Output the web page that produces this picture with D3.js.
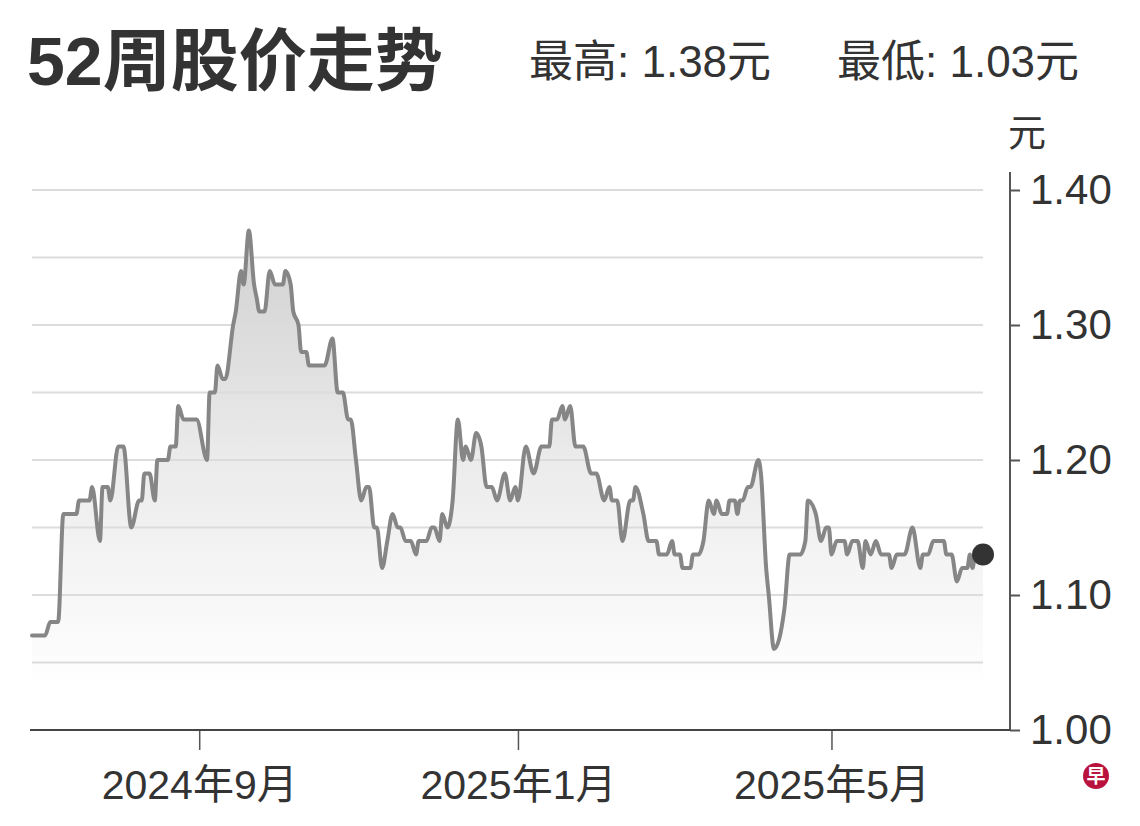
<!DOCTYPE html>
<html>
<head>
<meta charset="utf-8">
<script src="https://cdn.jsdelivr.net/npm/d3@7"></script>
<style>
  html, body { margin: 0; padding: 0; background: #fff; }
  svg { display: block; }
  text { font-family: "Liberation Sans", Arial, "Noto Sans CJK SC", sans-serif; }
</style>
</head>
<body>
<svg id="chart" width="1140" height="826"></svg>
<script>
// ---- data ----
const titleText = "52周股价走势";
const highText = "最高: 1.38元";
const lowText = "最低: 1.03元";
const unitText = "元";
const yTicks = [1.00, 1.10, 1.20, 1.30, 1.40];
const yGrid = [1.05, 1.10, 1.15, 1.20, 1.25, 1.30, 1.35, 1.40];
const xTicks = ["2024-09-01", "2025-01-01", "2025-05-01"];

const dates = [
  "2024-06-29","2024-07-04","2024-07-06","2024-07-09","2024-07-11","2024-07-16","2024-07-17","2024-07-21",
  "2024-07-22","2024-07-25","2024-07-26","2024-07-28","2024-07-29","2024-08-01","2024-08-03","2024-08-06",
  "2024-08-09","2024-08-10","2024-08-11","2024-08-13","2024-08-15","2024-08-16","2024-08-20","2024-08-21",
  "2024-08-23","2024-08-24","2024-08-26","2024-08-31","2024-09-04","2024-09-05","2024-09-07","2024-09-08",
  "2024-09-10","2024-09-11","2024-09-14","2024-09-15","2024-09-17","2024-09-18","2024-09-20","2024-09-22",
  "2024-09-23","2024-09-24","2024-09-26","2024-09-28","2024-09-30","2024-10-03","2024-10-04","2024-10-06",
  "2024-10-07","2024-10-09","2024-10-10","2024-10-12","2024-10-13","2024-10-19","2024-10-22","2024-10-24",
  "2024-10-26","2024-10-28","2024-10-29","2024-10-31","2024-11-02","2024-11-04","2024-11-05","2024-11-07",
  "2024-11-08","2024-11-10","2024-11-12","2024-11-14","2024-11-16","2024-11-17","2024-11-19","2024-11-21",
  "2024-11-23","2024-11-24","2024-11-27","2024-11-29","2024-11-30","2024-12-02","2024-12-03","2024-12-05",
  "2024-12-07","2024-12-09","2024-12-11","2024-12-12","2024-12-14","2024-12-16","2024-12-18","2024-12-20",
  "2024-12-22","2024-12-24","2024-12-27","2024-12-29","2024-12-31","2025-01-01","2025-01-04","2025-01-07",
  "2025-01-10","2025-01-13","2025-01-14","2025-01-16","2025-01-18","2025-01-19","2025-01-21","2025-01-23",
  "2025-01-26","2025-01-29","2025-01-31","2025-02-03","2025-02-05","2025-02-06","2025-02-08","2025-02-10",
  "2025-02-13","2025-02-14","2025-02-15","2025-02-18","2025-02-20","2025-02-23","2025-02-24","2025-02-27",
  "2025-03-01","2025-03-02","2025-03-04","2025-03-05","2025-03-08","2025-03-09","2025-03-11","2025-03-13",
  "2025-03-15","2025-03-17","2025-03-18","2025-03-20","2025-03-22","2025-03-23","2025-03-25","2025-03-26",
  "2025-03-27","2025-03-28","2025-03-30","2025-03-31","2025-04-03","2025-04-04","2025-04-06","2025-04-07",
  "2025-04-09","2025-04-13","2025-04-15","2025-04-19","2025-04-21","2025-04-22","2025-04-25","2025-04-27",
  "2025-04-29","2025-04-30","2025-05-01","2025-05-03","2025-05-06","2025-05-07","2025-05-09","2025-05-11",
  "2025-05-13","2025-05-14","2025-05-16","2025-05-18","2025-05-20","2025-05-23","2025-05-24","2025-05-26",
  "2025-05-29","2025-06-01","2025-06-04","2025-06-05","2025-06-07","2025-06-09","2025-06-13","2025-06-14",
  "2025-06-16","2025-06-18","2025-06-20","2025-06-22","2025-06-23","2025-06-24","2025-06-25","2025-06-28"
];
const prices = [
  1.07,1.07,1.08,1.08,1.16,1.16,1.17,1.17,
  1.18,1.14,1.18,1.18,1.17,1.21,1.21,1.15,
  1.17,1.17,1.19,1.19,1.17,1.20,1.20,1.21,
  1.21,1.24,1.23,1.23,1.20,1.25,1.25,1.27,
  1.26,1.26,1.30,1.31,1.34,1.33,1.37,1.33,
  1.32,1.31,1.31,1.34,1.33,1.33,1.34,1.33,
  1.31,1.30,1.28,1.28,1.27,1.27,1.29,1.25,
  1.25,1.23,1.23,1.20,1.17,1.18,1.18,1.15,
  1.15,1.12,1.14,1.16,1.15,1.15,1.14,1.14,
  1.13,1.14,1.14,1.15,1.15,1.14,1.16,1.15,
  1.17,1.23,1.20,1.21,1.20,1.22,1.21,1.18,
  1.18,1.17,1.19,1.17,1.18,1.17,1.21,1.19,
  1.21,1.21,1.23,1.23,1.24,1.23,1.24,1.21,
  1.21,1.19,1.19,1.17,1.18,1.17,1.17,1.14,
  1.17,1.17,1.18,1.16,1.14,1.14,1.13,1.13,
  1.14,1.13,1.13,1.12,1.12,1.13,1.13,1.14,
  1.17,1.16,1.17,1.16,1.16,1.17,1.17,1.16,
  1.17,1.17,1.18,1.18,1.20,1.19,1.12,1.10,
  1.06,1.09,1.13,1.13,1.14,1.17,1.16,1.14,
  1.15,1.15,1.13,1.14,1.14,1.13,1.14,1.14,
  1.12,1.14,1.13,1.14,1.13,1.13,1.12,1.13,
  1.13,1.15,1.12,1.13,1.13,1.14,1.14,1.13,
  1.13,1.11,1.12,1.12,1.13,1.12,1.13,1.13
];

// ---- chart ----
const parse = d3.timeParse("%Y-%m-%d");
const data = d3.zip(dates, prices).map(([d, v]) => ({ date: parse(d), value: v }));

const svg = d3.select("#chart");
const plotLeft = 32, plotRight = 983, axisX = 1010;
const yTop = 190, yBottom = 730;

const x = d3.scaleTime().domain(d3.extent(data, d => d.date)).range([plotLeft, plotRight]);
const y = d3.scaleLinear().domain([1.0, 1.4]).range([yBottom, yTop]);

const defs = svg.append("defs");
const grad = defs.append("linearGradient")
  .attr("id", "areaGrad").attr("gradientUnits", "userSpaceOnUse")
  .attr("x1", 0).attr("x2", 0).attr("y1", y(1.37)).attr("y2", y(1.03));
grad.append("stop").attr("offset", "0%").attr("stop-color", "#d0d0d0");
grad.append("stop").attr("offset", "50%").attr("stop-color", "#ebebeb");
grad.append("stop").attr("offset", "100%").attr("stop-color", "#ffffff");

// area
const area = d3.area().x(d => x(d.date)).y0(y(1.0)).y1(d => y(d.value)).curve(d3.curveMonotoneX);
svg.append("path").datum(data).attr("d", area).attr("fill", "url(#areaGrad)");

// gridlines
svg.append("g").selectAll("line").data(yGrid).join("line")
  .attr("x1", plotLeft).attr("x2", plotRight)
  .attr("y1", d => y(d)).attr("y2", d => y(d))
  .attr("stroke", "#dcdcdc").attr("stroke-width", 2);

// line
const line = d3.line().x(d => x(d.date)).y(d => y(d.value)).curve(d3.curveMonotoneX);
svg.append("path").datum(data).attr("d", line)
  .attr("fill", "none").attr("stroke", "#868686").attr("stroke-width", 4)
  .attr("stroke-linejoin", "round").attr("stroke-linecap", "round");

// end dot
const last = data[data.length - 1];
svg.append("circle").attr("cx", x(last.date)).attr("cy", y(last.value)).attr("r", 11).attr("fill", "#333");

// y axis
const yAxis = d3.axisRight(y).tickValues(yTicks).tickFormat(d3.format(".2f")).tickSize(10).tickPadding(10);
const gy = svg.append("g").attr("transform", `translate(${axisX},0)`).call(yAxis);
gy.select(".domain").remove();
gy.selectAll(".tick line").attr("stroke", "#555").attr("stroke-width", 2);
gy.selectAll(".tick text").attr("fill", "#333").attr("font-size", 42)
  .attr("font-family", "'Liberation Sans', Arial, sans-serif");
svg.append("line").attr("x1", axisX).attr("x2", axisX).attr("y1", 172).attr("y2", yBottom)
  .attr("stroke", "#555").attr("stroke-width", 2);

// x axis
const xAxis = d3.axisBottom(x).tickValues(xTicks.map(parse))
  .tickFormat(d3.timeFormat("%Y年%-m月")).tickSize(20).tickPadding(20);
const gx = svg.append("g").attr("transform", `translate(0,${yBottom})`).call(xAxis);
gx.select(".domain").remove();
gx.selectAll(".tick line").attr("stroke", "#555").attr("stroke-width", 1.5);
gx.selectAll(".tick text").attr("fill", "#333").attr("font-size", 41);
svg.append("line").attr("x1", 30).attr("x2", axisX).attr("y1", yBottom).attr("y2", yBottom)
  .attr("stroke", "#444").attr("stroke-width", 2);

// unit label
svg.append("text").attr("x", 1027).attr("y", 146).attr("text-anchor", "middle")
  .attr("font-size", 38).attr("fill", "#333").text(unitText);

// title & subtitle
svg.append("text").attr("x", 27).attr("y", 85).attr("font-size", 68).attr("font-weight", "bold")
  .attr("fill", "#333").text(titleText);
svg.append("text").attr("x", 529).attr("y", 77).attr("font-size", 44).attr("fill", "#333").text(highText);
svg.append("text").attr("x", 837).attr("y", 77).attr("font-size", 44).attr("fill", "#333").text(lowText);

// logo
svg.append("circle").attr("cx", 1096).attr("cy", 776).attr("r", 13).attr("fill", "#b8123d");
svg.append("text").attr("x", 1096).attr("y", 783).attr("text-anchor", "middle")
  .attr("font-size", 19).attr("font-weight", "bold").attr("fill", "#fff")
  .attr("font-family", "'Noto Sans CJK SC', sans-serif").text("早");
</script>
</body>
</html>
